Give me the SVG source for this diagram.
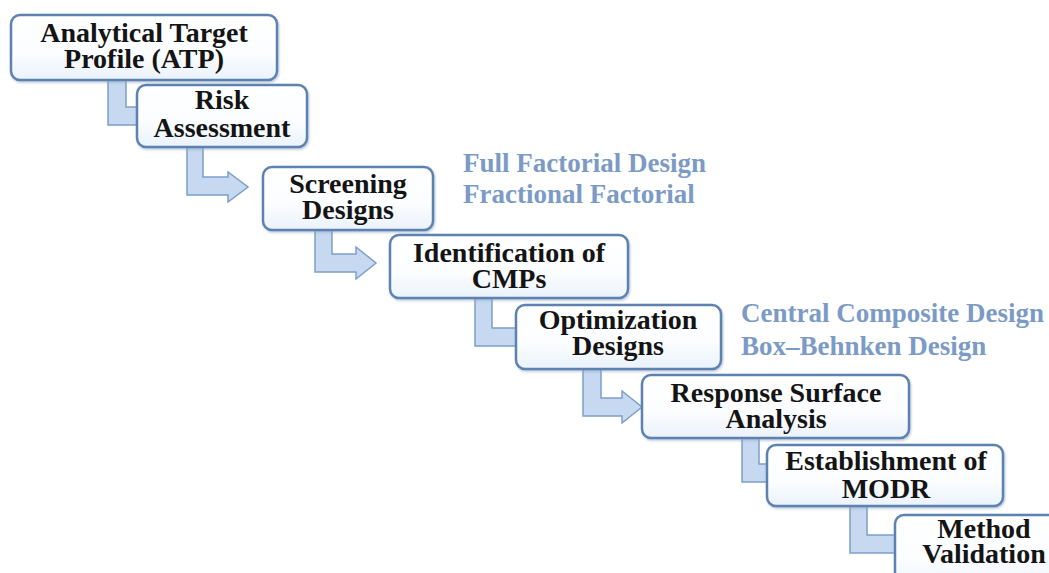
<svg xmlns="http://www.w3.org/2000/svg" width="1049" height="573" viewBox="0 0 1049 573">
<defs>
<linearGradient id="boxg" x1="0" y1="0" x2="0" y2="1">
<stop offset="0" stop-color="#ffffff"/>
<stop offset="0.6" stop-color="#fbfdff"/>
<stop offset="1" stop-color="#eaf2fb"/>
</linearGradient>
<filter id="sh" x="-5%" y="-5%" width="110%" height="120%">
<feDropShadow dx="1" dy="1.5" stdDeviation="1.2" flood-color="#8fa6c4" flood-opacity="0.6"/>
</filter>
</defs>
<style>
.box{fill:url(#boxg);stroke:#5d82b0;stroke-width:2.5;filter:url(#sh)}
.conn{fill:#c6d9f0;stroke:#7e9fc9;stroke-width:1.5;stroke-linejoin:miter}
.t{font-family:'Liberation Serif','Times New Roman',serif;font-weight:700;font-size:28px;fill:#141414;text-anchor:middle}
.b{font-family:'Liberation Serif','Times New Roman',serif;font-weight:700;font-size:27px;fill:#7b9bc6}
</style>
<rect width="1049" height="573" fill="#ffffff"/>
<g id="connectors">
<path class="conn" d="M108,78 H126 V107 H142 V125 H108 Z"/>
<path class="conn" d="M187,145 H203 V177 H228 V172 L248,187 L228,202 V195 H187 Z"/>
<path class="conn" d="M315,228 H332 V254 H356 V247 L376,263 L356,279 V272 H315 Z"/>
<path class="conn" d="M475,296 H492 V328 H519 V346 H475 Z"/>
<path class="conn" d="M583,367 H601 V398 H622 V391 L642,407 L622,423 V416 H583 Z"/>
<path class="conn" d="M742,436 H759 V464 H771 V482 H742 Z"/>
<path class="conn" d="M850,505 H867 V535 H899 V553 H850 Z"/>
</g>
<g id="n1">
<rect class="box" x="11" y="15" width="266" height="65" rx="9"/>
<text class="t" x="144" y="42">Analytical Target</text>
<text class="t" x="144" y="68">Profile (ATP)</text>
</g>
<g id="n2">
<rect class="box" x="137" y="85" width="170" height="62" rx="9"/>
<text class="t" x="222" y="109">Risk</text>
<text class="t" x="222" y="137">Assessment</text>
</g>
<g id="n3">
<rect class="box" x="263" y="167" width="170" height="63" rx="9"/>
<text class="t" x="348" y="193">Screening</text>
<text class="t" x="348" y="219">Designs</text>
</g>
<g id="n4">
<rect class="box" x="390" y="235" width="238" height="63" rx="9"/>
<text class="t" x="509" y="262">Identification of</text>
<text class="t" x="509" y="288">CMPs</text>
</g>
<g id="n5">
<rect class="box" x="516" y="305" width="205" height="64" rx="9"/>
<text class="t" x="618" y="329">Optimization</text>
<text class="t" x="618" y="355">Designs</text>
</g>
<g id="n6">
<rect class="box" x="642" y="375" width="267" height="63" rx="9"/>
<text class="t" x="776" y="402">Response Surface</text>
<text class="t" x="776" y="428">Analysis</text>
</g>
<g id="n7">
<rect class="box" x="767" y="445" width="236" height="61" rx="9"/>
<text class="t" x="886" y="470">Establishment of</text>
<text class="t" x="886" y="498">MODR</text>
</g>
<g id="n8">
<rect class="box" x="895" y="515" width="185" height="75" rx="9"/>
<text class="t" x="984" y="538">Method</text>
<text class="t" x="984" y="563">Validation</text>
</g>
<g id="labels">
<text class="b" x="463" y="172">Full Factorial Design</text>
<text class="b" x="463" y="203">Fractional Factorial</text>
<text class="b" x="741" y="322">Central Composite Design</text>
<text class="b" x="741" y="355">Box–Behnken Design</text>
</g>
</svg>
